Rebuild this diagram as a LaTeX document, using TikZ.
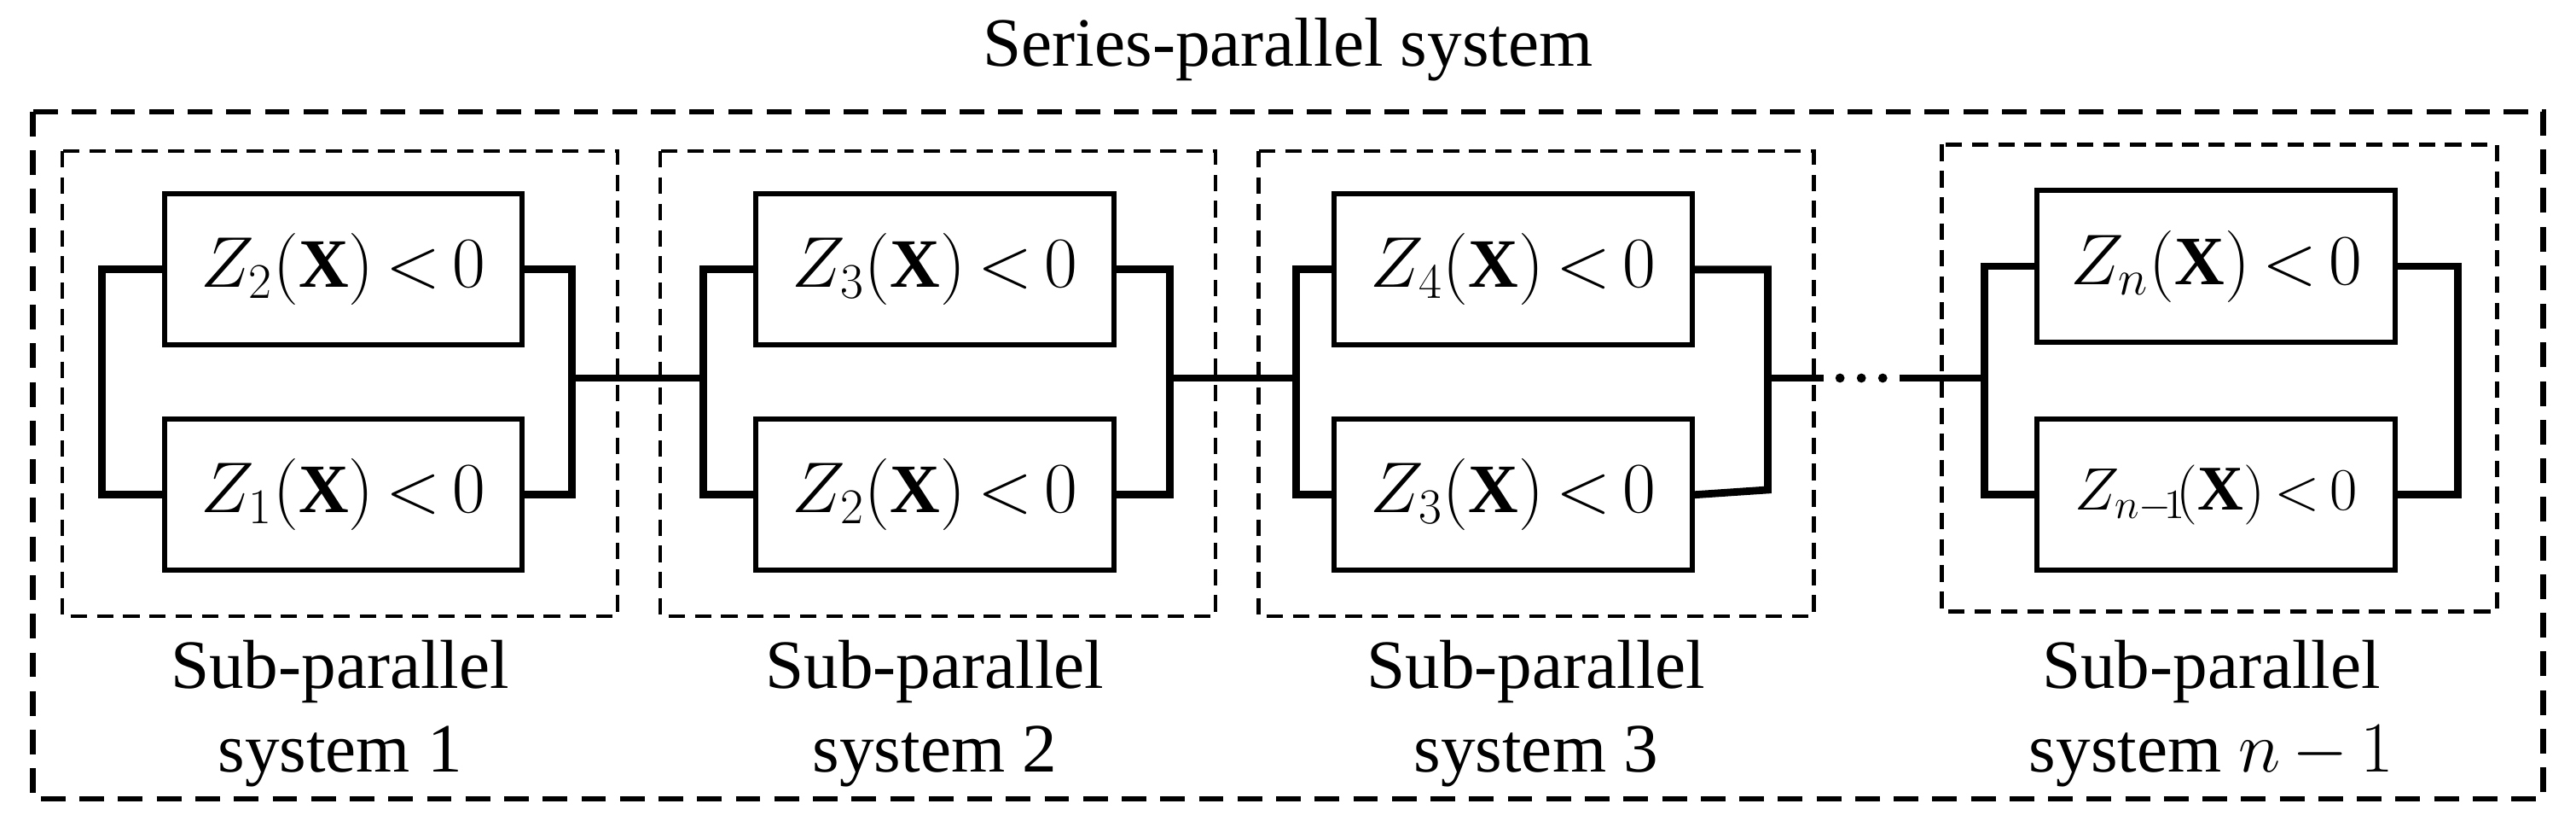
\documentclass[tikz,border=0pt]{standalone}
\usepackage{fontspec}
\setmainfont{Liberation Serif}
\begin{document}
\begin{tikzpicture}[x=0.02cm,y=-0.02cm,
  outer/.style={line width=2pt,dash pattern=on 0.3cm off 0.17cm},
  sub/.style={line width=1.3pt,dash pattern=on 0.2cm off 0.12cm},
  comp/.style={draw,line width=1.8pt,minimum width=4.36cm,minimum height=1.84cm,inner sep=0pt,font=\fontsize{24}{28}\selectfont},
  wire/.style={line width=2.6pt},
  lbl/.style={align=center,font=\fontsize{24}{29}\selectfont}]
\useasboundingbox (0,0) rectangle (1568,503);
\node[font=\fontsize{24}{28}\selectfont] (title) at (784,30) {Series-parallel system};
\draw[outer] (20,68) rectangle (1548,486);
\draw[sub] (38,92) rectangle (376,375);
\draw[sub] (402,92) rectangle (740,375);
\draw[sub] (766,92) rectangle (1104,375);
\draw[sub] (1182,88) rectangle (1520,372);
% components
\node[comp] (a1) at (209,164) {$Z_2(\mathbf{X})\,{<}\,0$};
\node[comp] (a2) at (209,301) {$Z_1(\mathbf{X})\,{<}\,0$};
\node[comp] (b1) at (569,164) {$Z_3(\mathbf{X})\,{<}\,0$};
\node[comp] (b2) at (569,301) {$Z_2(\mathbf{X})\,{<}\,0$};
\node[comp] (c1) at (921,164) {$Z_4(\mathbf{X})\,{<}\,0$};
\node[comp] (c2) at (921,301) {$Z_3(\mathbf{X})\,{<}\,0$};
\node[comp] (d1) at (1349,162) {$Z_n(\mathbf{X})\,{<}\,0$};
\node[comp,font=\fontsize{22}{26}\selectfont] (d2) at (1349,301) {$Z_{n\mathord{-}\!1}\!(\mathbf{X})\,{<}\,0$};
% junction coordinates
\coordinate (r1) at (348,230); \coordinate (l2) at (428,230);
\coordinate (r2) at (712,230); \coordinate (l3) at (789,230);
\coordinate (r3) at (1076,230); \coordinate (e3) at (1110,230);
\coordinate (s4) at (1156,230); \coordinate (l4) at (1208,230);
\draw[wire] (a1.west) -| (62,230) |- (a2.west);
\draw[wire] (a1.east) -| (r1) |- (a2.east);
\draw[wire] (b1.west) -| (l2) |- (b2.west);
\draw[wire] (b1.east) -| (r2) |- (b2.east);
\draw[wire] (c1.west) -| (l3) |- (c2.west);
\draw[wire] (c1.east) -| (r3) -- (1076,298) -- (c2.east);
\draw[wire] (d1.west) -| (l4) |- (d2.west);
\draw[wire] (d1.east) -| (1496,230) |- (d2.east);
\draw[wire] (r1) -- (l2);
\draw[wire] (r2) -- (l3);
\draw[wire] (r3) -- (e3);
\draw[wire] (s4) -- (l4);
\foreach \x in {1120,1133,1146} \fill (\x,230) circle (2.8);
% labels
\node[lbl] (t1) at (207,434) {Sub-parallel\\system 1};
\node[lbl] (t2) at (569,434) {Sub-parallel\\system 2};
\node[lbl] (t3) at (935,434) {Sub-parallel\\system 3};
\node[lbl] (t4) at (1346,434) {Sub-parallel\\system $n\,{-}\,1$};
\end{tikzpicture}
\end{document}
